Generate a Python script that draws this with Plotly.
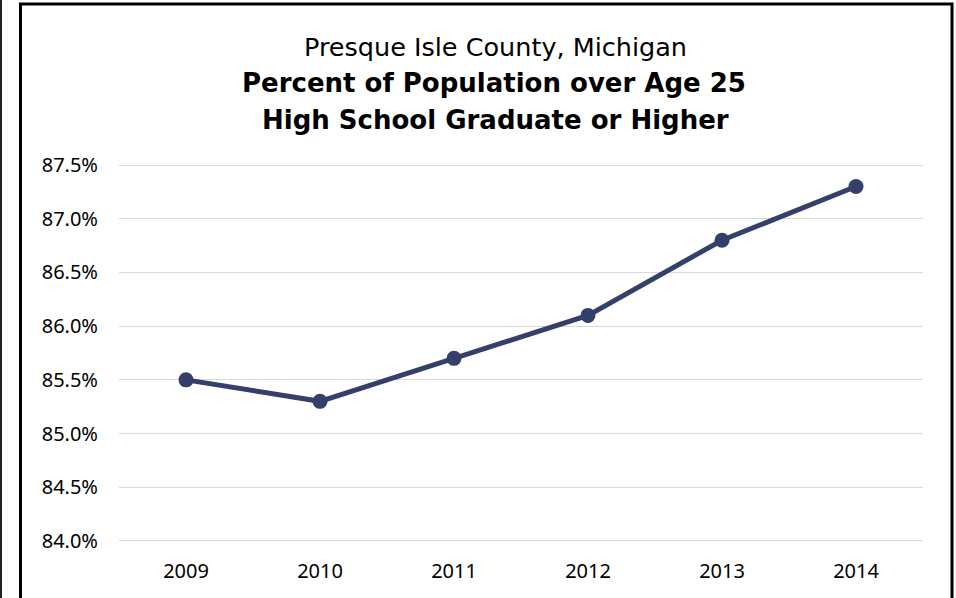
import plotly.graph_objects as go

years = ["2009", "2010", "2011", "2012", "2013", "2014"]
pct_hs_grad = [85.5, 85.3, 85.7, 86.1, 86.8, 87.3]
y_ticks = [84.0, 84.5, 85.0, 85.5, 86.0, 86.5, 87.0, 87.5]
y_tick_labels = ["84.0%", "84.5%", "85.0%", "85.5%", "86.0%", "86.5%", "87.0%", "87.5%"]

W, H = 956, 598
L, R, T, B = 119, 33, 163, 55
PW, PH = W - L - R, H - T - B

def px(x):
    return (x - L) / PW

def py(y):
    return 1 - (y - T) / PH

line_color = "#343F6C"

fig = go.Figure()
fig.add_trace(go.Scatter(
    x=years, y=pct_hs_grad, mode="lines+markers",
    line=dict(color=line_color, width=5),
    marker=dict(color=line_color, size=15),
    hoverinfo="x+y", showlegend=False, cliponaxis=False,
))

fig.update_layout(
    width=W, height=H,
    margin=dict(l=L, r=R, t=T, b=B),
    paper_bgcolor="white", plot_bgcolor="white",
    font=dict(family="Noto Sans, DejaVu Sans, sans-serif", color="#000000"),
    xaxis=dict(
        type="category", range=[-0.5, len(years) - 0.5],
        showgrid=False, zeroline=False, showline=False,
        ticks="", tickfont=dict(size=20, color="#000000"), ticklabelstandoff=14,
    ),
    yaxis=dict(
        range=[83.981, 87.519], tickvals=y_ticks, ticktext=y_tick_labels,
        showgrid=True, gridcolor="#D9D9D9", gridwidth=1, zeroline=False,
        showline=False, ticks="", tickfont=dict(size=20, color="#000000"),
        ticklabelstandoff=20,
    ),
    annotations=[
        dict(text="Presque Isle County, Michigan", x=px(495), y=py(47),
             xref="paper", yref="paper", showarrow=False, xanchor="center", yanchor="middle",
             font=dict(family="DejaVu Sans", size=25.5, color="#000000")),
        dict(text="<b>Percent of Population over Age 25</b>", x=px(494), y=py(83),
             xref="paper", yref="paper", showarrow=False, xanchor="center", yanchor="middle",
             font=dict(family="DejaVu Sans", size=26, color="#000000")),
        dict(text="<b>High School Graduate or Higher</b>", x=px(495), y=py(120),
             xref="paper", yref="paper", showarrow=False, xanchor="center", yanchor="middle",
             font=dict(family="DejaVu Sans", size=26, color="#000000")),
    ],
    shapes=[
        dict(type="rect", xref="paper", yref="paper",
             x0=px(20.5), x1=px(952), y0=py(605), y1=py(4),
             line=dict(color="#000000", width=3), fillcolor="rgba(0,0,0,0)", layer="above"),
        dict(type="line", xref="paper", yref="paper",
             x0=px(1), x1=px(1), y0=py(0), y1=py(598),
             line=dict(color="#222222", width=2)),
    ],
)

fig.write_html("out.html", config={"displayModeBar": False},
               post_script="document.body.style.margin='0';document.body.style.overflow='hidden';")
